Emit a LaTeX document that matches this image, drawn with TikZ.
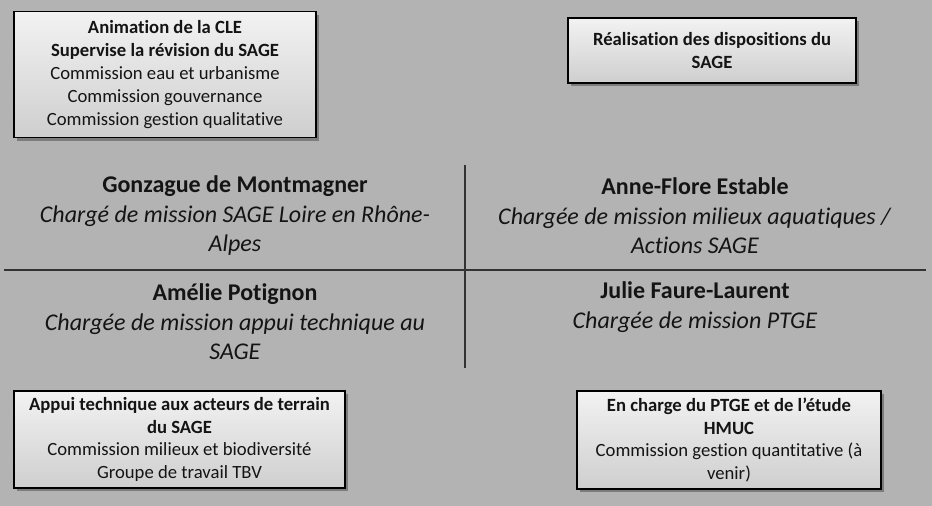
\documentclass[tikz,border=0pt]{standalone}
\usepackage{fontspec}
\setmainfont{Carlito}[Ligatures=NoCommon]
\usetikzlibrary{shadows}
\definecolor{bggray}{RGB}{179,179,179}
\definecolor{txt}{RGB}{20,20,20}
\begin{document}
\begin{tikzpicture}[x=1pt,y=-1pt,
  infobox/.style={draw=black, line width=1.2pt, top color=white!95!black, bottom color=black!19,
    drop shadow={shadow xshift=3pt, shadow yshift=-3pt, opacity=0.3, fill=black},
    align=center, inner sep=0pt, text=txt, font=\fontsize{18.67}{22.8}\selectfont},
  person/.style={align=center, inner sep=0pt, text=txt, font=\fontsize{24}{29.5}\selectfont},
  sepline/.style={draw=black!80, line width=1.3pt}]
\useasboundingbox (0,0) rectangle (932,506);
\fill[bggray] (0,0) rectangle (932,506);

\node[infobox, minimum width=302pt, minimum height=126pt] (b1) at (165,74.5)
  {\textbf{Animation de la CLE}\\\textbf{Supervise la révision du SAGE}\\Commission eau et urbanisme\\Commission gouvernance\\Commission gestion qualitative};
\node[infobox, minimum width=288pt, minimum height=65pt] (b2) at (712,50.5)
  {\textbf{Réalisation des dispositions du}\\\textbf{SAGE}};
\node[infobox, minimum width=331pt, minimum height=97pt] (b3) at (179.5,439.5)
  {\textbf{Appui technique aux acteurs de terrain}\\\textbf{du SAGE}\\Commission milieux et biodiversité\\Groupe de travail TBV};
\node[infobox, minimum width=304pt, minimum height=98pt] (b4) at (729,440)
  {\textbf{En charge du PTGE et de l’étude}\\\textbf{HMUC}\\Commission gestion quantitative (à\\venir)};

\coordinate (vt) at (465,165);
\coordinate (vb) at (465,368);
\coordinate (hl) at (4,270);
\coordinate (hr) at (926,270);
\draw[sepline] (vt) -- (vb);
\draw[sepline] (hl) -- (hr);

\node[person] (p1) at (235,216)
  {\textbf{Gonzague de Montmagner}\\\textit{Chargé de mission SAGE Loire en Rhône-}\\\textit{Alpes}};
\node[person] (p2) at (695,216)
  {\textbf{Anne-Flore Estable}\\\textit{Chargée de mission milieux aquatiques /}\\\textit{Actions SAGE}};
\node[person] (p3) at (235,322)
  {\textbf{Amélie Potignon}\\\textit{Chargée de mission appui technique au}\\\textit{SAGE}};
\node[person] (p4) at (695,307)
  {\textbf{Julie Faure-Laurent}\\\textit{Chargée de mission PTGE}};
\end{tikzpicture}
\end{document}
